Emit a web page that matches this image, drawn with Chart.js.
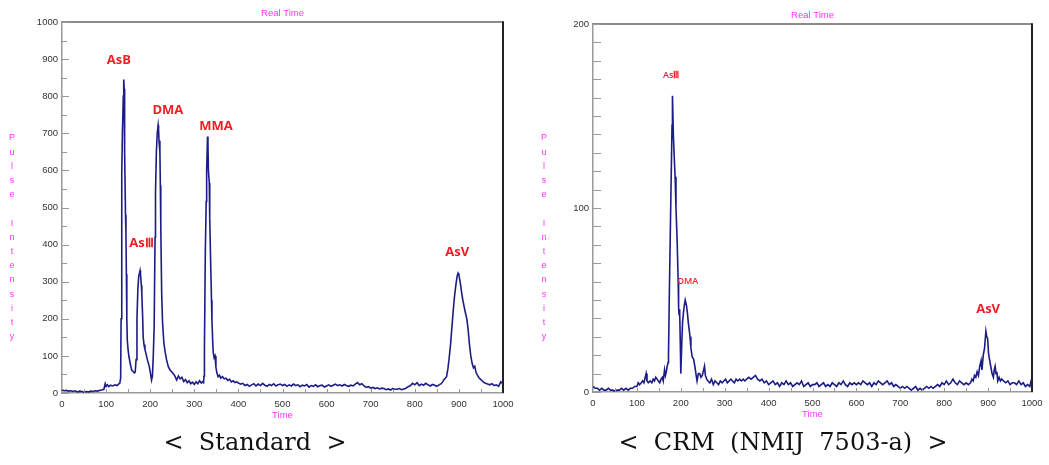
<!DOCTYPE html>
<html>
<head>
<meta charset="utf-8">
<script src="https://cdn.jsdelivr.net/npm/chart.js@4.4.0/dist/chart.umd.min.js"></script>
<style>
  body { margin: 0; background: #fff; width: 1049px; height: 465px; position: relative; overflow: hidden; }
  .box { position: absolute; top: 0; height: 430px; }
  .cap { position: absolute; top: 428px; line-height: 28px; font-family: "DejaVu Serif", serif; font-size: 24px; color: #111; white-space: pre; transform: translateX(-50%); }
</style>
</head>
<body>
<div class="box" style="left:0;width:520px"><canvas id="std" width="520" height="430"></canvas></div>
<div class="box" style="left:530px;width:519px"><canvas id="crm" width="519" height="430"></canvas></div>
<div class="cap" style="left:255px">&lt;  Standard  &gt;</div>
<div class="cap" style="left:783px">&lt;  CRM  (NMIJ  7503-a)  &gt;</div>

<script>
// ---- Standard: time / pulse intensity ----
const stdTime = [
  0,5,10,15,20,25,30,35,40,45,50,55,60,65,70,75,80,85,90,95,
  98,100,103,106,110,115,120,125,128,131,
  133,134,135,136,137,139,140,141,142,144,145,146,147,148,150,152,155,158,161,164,166,
  168,170,172,174,176,177,178,180,181,183,184,186,188,190,194,198,201,203,205,
  207,209,211,212,214,216,218,219,220,222,223,224,226,228,231,234,237,241,245,250,255,260,
  264,268,272,276,280,284,288,292,296,300,304,308,312,316,319,321,
  322,323,325,327,328,330,331,332,334,335,337,339,340,342,343,345,347,349,351,354,357,360,
  364,368,372,376,380,384,388,392,396,400,405,410,415,420,425,430,
  435,440,445,450,455,460,465,470,475,480,485,490,495,500,505,510,515,520,525,530,
  535,540,545,550,555,560,565,570,575,580,585,590,595,600,
  605,610,615,620,625,630,635,640,645,650,655,660,665,670,675,680,685,690,695,700,
  705,710,715,720,725,730,735,740,745,750,755,760,765,770,775,780,785,790,795,800,
  805,810,815,820,825,830,835,840,845,850,855,860,
  863,866,869,872,875,878,881,884,887,890,893,896,898,900,902,904,906,909,912,915,
  918,921,924,927,930,933,936,939,942,945,948,951,955,
  960,965,970,975,980,985,990,995,998,1000
];
const stdSignal = [
  8,6,7,5,6,4,6,3,5,4,2,4,3,5,4,6,5,7,8,10,
  25,18,22,17,21,19,22,20,24,26,
  40,200,588,590,700,800,845,820,650,480,431,320,200,143,115,97,78,62,58,54,56,
  90,200,280,315,325,330,320,290,268,200,152,130,118,108,88,71,50,35,45,
  100,179,420,539,650,700,722,710,680,650,560,448,270,190,135,110,90,71,62,55,48,35,
  46,38,42,31,36,28,33,25,29,23,30,25,33,27,30,28,
  45,120,380,516,600,691,670,600,566,470,358,250,197,130,108,95,100,70,55,44,48,40,
  44,38,40,34,37,30,33,28,30,27,24,26,20,23,18,22,
  25,19,24,20,26,21,18,23,20,25,19,22,24,20,23,18,22,19,24,20,
  22,17,21,19,23,16,20,18,22,17,20,21,16,19,
  22,18,21,24,20,22,19,23,20,18,21,19,24,28,22,25,19,15,17,13,
  15,12,14,11,13,12,9,11,8,12,10,10,12,9,11,13,17,20,26,22,
  28,20,24,21,26,22,19,23,21,18,22,25,
  30,36,40,44,65,95,130,175,220,260,290,315,323,318,305,290,272,250,232,215,
  200,170,130,100,80,68,72,55,48,42,38,35,30,
  26,24,22,25,20,22,18,30,27,22
];

// ---- CRM (NMIJ 7503-a) ----
const crmTime = [
  0,5,10,15,20,25,30,35,40,45,50,55,60,65,70,75,80,85,90,95,
  100,103,106,110,113,116,119,121,123,126,130,134,137,140,143,146,149,152,155,158,160,163,165,167,169,
  171,172,174,176,178,180,181,183,185,187,189,191,192,194,195,196,197,198,199,200,
  202,204,206,208,210,211,213,215,217,219,221,223,226,229,232,235,237,240,243,246,249,252,254,256,259,
  262,266,270,274,278,282,286,290,294,298,302,306,310,314,318,322,326,330,334,338,342,346,350,355,360,
  365,370,375,380,385,390,395,400,
  405,410,415,420,425,430,435,440,445,450,455,460,465,470,475,480,485,490,495,500,
  505,510,515,520,525,530,535,540,545,550,555,560,565,570,575,580,585,590,595,600,
  605,610,615,620,625,630,635,640,645,650,655,660,665,670,675,680,685,690,695,700,
  705,710,715,720,725,730,735,740,745,750,755,760,765,770,775,780,785,790,795,800,
  805,810,815,820,825,830,835,840,845,850,855,860,
  863,866,869,872,875,878,881,884,886,889,892,895,897,899,901,903,906,909,912,914,
  916,918,920,922,925,928,931,935,940,945,950,955,
  960,965,970,975,980,985,990,995,998,1000
];
const crmSignal = [
  3,2,2,1,2,1,1,2,1,1,0.5,1,1,2,1,2,1,2,2,3,
  3,5,4,5,6,5,8,10,6,5,6,5,7,6,8,7,6,5,7,8,6,12,9,11,14,
  16,20,55,85,115,145,161,140,128,117,100,87,79,60,46,42,45,43,25,10,
  25,38,43,47,50,50,47,43,38,34,30,24,19,18,14,9,6,10,10,8,9,12,14,9,7,
  6,5,7,4,6,5,4,6,5,6,7,5,6,7,6,5,7,6,7,6,7,6,7,8,7,
  8,9,7,6,7,5,6,4,
  5,6,4,5,3,5,4,6,4,5,3,4,5,4,6,3,4,5,3,4,
  4,5,3,4,5,3,4,3,5,4,3,5,4,6,4,3,5,4,5,4,
  5,4,6,5,4,5,3,5,4,6,5,4,5,6,4,5,3,4,3,2,
  3,2,3,2,1,2,3,1,2,1,2,3,2,3,2,3,4,3,5,4,
  6,4,5,7,5,4,6,5,4,5,4,5,
  7,6,9,8,11,9,14,17,12,20,24,33,30,29,21,18,14,10,8,12,
  14,10,11,6,8,6,7,6,5,6,4,5,
  5,4,6,4,5,3,4,3,6,5
];

// axis tick labels
const timeTicks = [0,100,200,300,400,500,600,700,800,900,1000];
const stdTicks = [0,100,200,300,400,500,600,700,800,900,1000];
const crmTicks = [0,100,200];

// peak names and where they sit (time, intensity)
const stdPeakNames = ['AsB', 'AsⅢ', 'DMA', 'MMA', 'AsV'];
const stdPeakTime = [129, 180, 240, 349, 896];
const stdPeakLevel = [898, 404, 763, 720, 380];
const crmPeakNames = ['AsⅢ', 'DMA', 'AsV'];
const crmPeakTime = [178, 216, 900];
const crmPeakLevel = [172, 60, 45];

const pink = '#ff33ff';

const decor = {
  id: 'decor',
  afterDraw(chart, args, o) {
    const { ctx, chartArea: a, scales: { x, y } } = chart;
    ctx.save();
    // frame top / right
    ctx.strokeStyle = '#666'; ctx.lineWidth = 1.5;
    ctx.beginPath(); ctx.moveTo(a.left, a.top); ctx.lineTo(a.right, a.top); ctx.stroke();
    ctx.strokeStyle = '#222'; ctx.lineWidth = 2;
    ctx.beginPath(); ctx.moveTo(a.right, a.top - 0.75); ctx.lineTo(a.right, a.bottom); ctx.stroke();

    // inward tick marks
    ctx.strokeStyle = '#999'; ctx.lineWidth = 1;
    for (let v = 0; v <= y.max; v += o.yStep) {
      const py = Math.round(y.getPixelForValue(v)) + 0.5;
      const len = v % 100 === 0 ? o.yLen : o.yMinorLen;
      ctx.beginPath(); ctx.moveTo(a.left, py); ctx.lineTo(a.left + len, py); ctx.stroke();
    }
    for (let t = 50; t < 1000; t += 50) {
      const px = Math.round(x.getPixelForValue(t)) + 0.5;
      ctx.beginPath(); ctx.moveTo(px, a.bottom); ctx.lineTo(px, a.bottom - 4); ctx.stroke();
    }

    // titles
    ctx.fillStyle = pink;
    ctx.font = '9.5px "Liberation Sans"';
    ctx.textAlign = 'center'; ctx.textBaseline = 'middle';
    const cx = (a.left + a.right) / 2;
    ctx.fillText('Real Time', cx, o.titleY);
    ctx.fillText('Time', cx, o.timeY);
    ctx.font = '9px "Liberation Sans"';
    'Pulse Intensity'.split('').forEach((c, i) => {
      ctx.fillText(c, o.yTitleX, 138 + i * 14.2);
    });

    // peak names
    ctx.fillStyle = '#f01e23';
    o.names.forEach((n, i) => {
      ctx.font = o.fonts[i];
      ctx.fillText(n, x.getPixelForValue(o.times[i]), y.getPixelForValue(o.levels[i]));
    });
    ctx.restore();
  }
};

function makeChart(id, time, signal, yMax, yTicks, pad, yWidth, xHeight, deco) {
  return new Chart(document.getElementById(id), {
    type: 'line',
    data: {
      datasets: [{
        data: time.map((t, i) => ({ x: t, y: signal[i] })),
        borderColor: '#1c1c85',
        borderWidth: 1.6,
        pointRadius: 0,
        tension: 0
      }]
    },
    options: {
      responsive: false,
      animation: false,
      layout: { padding: pad },
      plugins: { legend: { display: false }, tooltip: { enabled: false }, decor: deco },
      scales: {
        x: {
          type: 'linear', min: 0, max: 1000,
          afterBuildTicks: s => { s.ticks = timeTicks.map(v => ({ value: v })); },
          afterFit: s => { s.height = xHeight; s.paddingLeft = 0; s.paddingRight = 0; },
          grid: { display: false, drawTicks: false },
          border: { display: true, color: '#999', width: 1.5 },
          ticks: { padding: 6, maxRotation: 0, color: '#333', callback: v => String(v),
                   font: { family: 'Liberation Sans', size: 9.5 } }
        },
        y: {
          min: 0, max: yMax,
          afterBuildTicks: s => { s.ticks = yTicks.map(v => ({ value: v })); },
          afterFit: s => { s.width = yWidth; s.paddingTop = 0; s.paddingBottom = 0; },
          grid: { display: false, drawTicks: false },
          border: { display: true, color: '#999', width: 1.5 },
          ticks: { padding: 4, color: '#333', callback: v => String(v),
                   font: { family: 'Liberation Sans', size: 9.5 } }
        }
      }
    },
    plugins: [decor]
  });
}

makeChart('std', stdTime, stdSignal, 1000, stdTicks,
  { left: 0, top: 22, right: 17, bottom: 0 }, 62, 37,
  { yStep: 50, yLen: 7, yMinorLen: 5, titleY: 13, timeY: 415, yTitleX: 12,
    names: stdPeakNames, times: stdPeakTime, levels: stdPeakLevel,
    fonts: Array(5).fill('bold 13px "Open Sans"') });

makeChart('crm', crmTime, crmSignal, 200, crmTicks,
  { left: 0, top: 24, right: 17, bottom: 0 }, 63, 38,
  { yStep: 10, yLen: 8, yMinorLen: 8, titleY: 15, timeY: 414, yTitleX: 14,
    names: crmPeakNames, times: crmPeakTime, levels: crmPeakLevel,
    fonts: ['600 9px "Open Sans"', '600 9px "Open Sans"', 'bold 13px "Open Sans"'] });
</script>
</body>
</html>
